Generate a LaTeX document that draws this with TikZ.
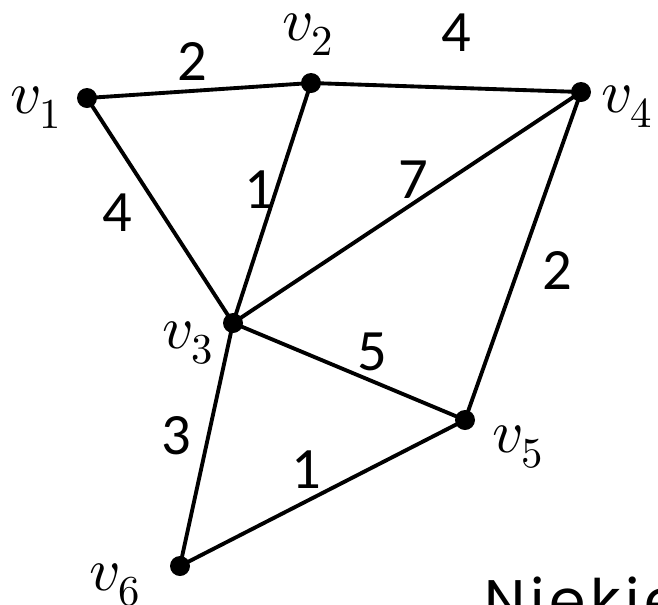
\documentclass[tikz,border=0pt]{standalone}
\usepackage{fontspec}
\usepackage{unicode-math}
\newfontfamily\weightfont{Carlito}
\newfontfamily\notefont[LetterSpace=8]{Poppins}

\begin{document}
\begin{tikzpicture}[x=0.03cm,y=-0.03cm,
    vertex/.style={circle,fill=black,inner sep=0pt,minimum size=0.6cm},
    vlabel/.style={inner sep=0pt,anchor=base west,font=\fontsize{52}{60}\selectfont},
    weight/.style={inner sep=0pt,font=\weightfont\fontsize{50}{60}\selectfont},
    link/.style={line width=3.3pt,line cap=round}]
\useasboundingbox (0,0) rectangle (658,605);
\clip (0,0) rectangle (658,605);

% vertices
\node[vertex] (v1) at (87,98) {};
\node[vertex] (v2) at (311,83) {};
\node[vertex] (v3) at (233,323) {};
\node[vertex] (v4) at (581,92) {};
\node[vertex] (v5) at (465,420) {};
\node[vertex] (v6) at (180,566) {};

% vertex labels
\node[vlabel] (l1) at (10,113) {$v_1$};
\node[vlabel] (l2) at (282,40) {$v_2$};
\node[vlabel] (l3) at (162,348) {$v_3$};
\node[vlabel] (l4) at (601,112) {$v_4$};
\node[vlabel] (l5) at (492,452) {$v_5$};
\node[vlabel] (l6) at (89,590) {$v_6$};

% edges
\draw[link] (v1.center) -- (v2.center);
\draw[link] (v2.center) -- (v4.center);
\draw[link] (v1.center) -- (v3.center);
\draw[link] (v2.center) -- (v3.center);
\draw[link] (v3.center) -- (v4.center);
\draw[link] (v4.center) -- (v5.center);
\draw[link] (v3.center) -- (v5.center);
\draw[link] (v3.center) -- (v6.center);
\draw[link] (v6.center) -- (v5.center);

% weights
\node[weight] (w12) at (192,61) {2};
\node[weight] (w24) at (456,33) {4};
\node[weight] (w13) at (117,213) {4};
\node[weight] (w23) at (259,190) {1};
\node[weight] (w34) at (413,180) {7};
\node[weight] (w45) at (557,270) {2};
\node[weight] (w35) at (372,352) {5};
\node[weight] (w36) at (176,436) {3};
\node[weight] (w65) at (306,470) {1};

% cut-off note
\node[inner sep=0pt,anchor=base west,font=\notefont\fontsize{50}{60}\selectfont]
    (note) at (484,621) {Niekie};
\end{tikzpicture}
\end{document}
